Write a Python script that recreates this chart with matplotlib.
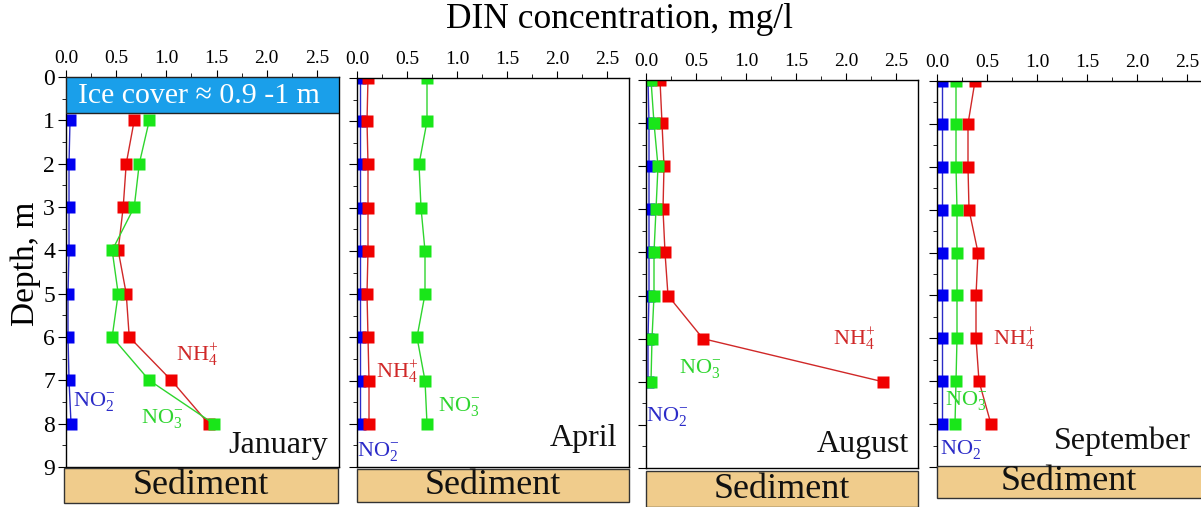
import matplotlib
matplotlib.use('Agg')
import matplotlib.pyplot as plt
from matplotlib.patches import Rectangle

plt.rcParams['font.family'] = 'Liberation Serif'
plt.rcParams['mathtext.fontset'] = 'custom'
plt.rcParams['mathtext.rm'] = 'Liberation Serif'
plt.rcParams['mathtext.it'] = 'Liberation Serif'

months = ['January', 'April', 'August', 'September']

# depth (m) of each sample and DIN values, mg/l
jan_depth = [1, 2, 3, 4, 5, 6, 7, 8]
jan_no2 = [0.04, 0.03, 0.03, 0.03, 0.02, 0.02, 0.03, 0.05]
jan_nh4 = [0.68, 0.60, 0.57, 0.52, 0.60, 0.63, 1.05, 1.42]
jan_no3 = [0.83, 0.73, 0.68, 0.46, 0.52, 0.46, 0.83, 1.47]

apr_depth = [0, 1, 2, 3, 4, 5, 6, 7, 8]
apr_no2 = [0.03, 0.03, 0.03, 0.03, 0.03, 0.03, 0.03, 0.03, 0.03]
apr_nh4 = [0.11, 0.10, 0.11, 0.11, 0.11, 0.10, 0.11, 0.12, 0.12]
apr_no3 = [0.70, 0.70, 0.62, 0.64, 0.68, 0.68, 0.60, 0.68, 0.70]

aug_depth = [0, 1, 2, 3, 4, 5, 6, 7]
aug_no2 = [0.02, 0.03, 0.03, 0.03, 0.03, 0.03, 0.02, 0.02]
aug_nh4 = [0.14, 0.16, 0.18, 0.17, 0.19, 0.22, 0.57, 2.37]
aug_no3 = [0.05, 0.08, 0.12, 0.10, 0.08, 0.08, 0.06, 0.05]

sep_depth = [0, 1, 2, 3, 4, 5, 6, 7, 8]
sep_no2 = [0.05, 0.05, 0.05, 0.05, 0.05, 0.05, 0.05, 0.05, 0.05]
sep_nh4 = [0.38, 0.31, 0.31, 0.32, 0.41, 0.39, 0.39, 0.42, 0.54]
sep_no3 = [0.19, 0.19, 0.19, 0.20, 0.20, 0.20, 0.20, 0.19, 0.18]

panels = [
    (jan_depth, jan_no2, jan_nh4, jan_no3),
    (apr_depth, apr_no2, apr_nh4, apr_no3),
    (aug_depth, aug_no2, aug_nh4, aug_no3),
    (sep_depth, sep_no2, sep_nh4, sep_no3),
]

# label positions (x, depth) for NO2, NH4, NO3 and month name
label_pos = [
    [(0.07, 7.5), (1.10, 6.4), (0.75, 7.87), (2.61, 8.5)],
    [(0.00, 8.65), (0.19, 6.8), (0.81, 7.6), (2.60, 8.35)],
    [(0.00, 7.8), (1.87, 6.0), (0.33, 6.7), (2.63, 8.45)],
    [(0.03, 8.6), (0.56, 6.0), (0.08, 7.45), (2.54, 8.4)],
]

W, H = 1201, 507
# axes boxes in pixels: left, top, right, bottom
boxes = [(66, 77, 339, 467), (357, 78, 629, 467), (646, 80, 918, 468), (937, 81, 1209, 467)]
sed_boxes = [(64, 468, 338, 503), (357, 469, 629, 502), (646, 471, 918, 507), (937, 466, 1209, 498)]

c_no2, c_nh4, c_no3 = '#0000F0', '#F00000', '#19E619'
l_no2, l_nh4, l_no3 = '#2B2BC8', '#D02828', '#2ED52E'

fig = plt.figure(figsize=(W / 100, H / 100), dpi=100)

for i, (depth, no2, nh4, no3) in enumerate(panels):
    l, t, r, b = boxes[i]
    ax = fig.add_axes([l / W, 1 - b / H, (r - l) / W, (b - t) / H])
    ax.plot(no2, depth, color=l_no2, lw=1.0, marker='s', ms=8.5, mfc=c_no2, mec='none')
    ax.plot(nh4, depth, color=l_nh4, lw=1.0, marker='s', ms=8.5, mfc=c_nh4, mec='none')
    ax.plot(no3, depth, color=l_no3, lw=1.0, marker='s', ms=8.5, mfc=c_no3, mec='none')
    ax.set_xlim(0, 2.72)
    ax.set_ylim(9, 0)
    ax.xaxis.tick_top()
    ax.set_xticks([0, 0.5, 1.0, 1.5, 2.0, 2.5])
    ax.set_xticklabels(['0.0', '0.5', '1.0', '1.5', '2.0', '2.5'])
    ax.set_xticks([0.25, 0.75, 1.25, 1.75, 2.25], minor=True)
    ax.set_yticks(range(10))
    ax.set_yticks([k + 0.5 for k in range(9)], minor=True)
    ax.tick_params(axis='x', which='major', direction='out', length=5, labelsize=14, pad=2)
    ax.tick_params(axis='x', which='minor', direction='out', length=3)
    ax.tick_params(axis='y', which='major', direction='out', length=6, labelsize=17, pad=2)
    ax.tick_params(axis='y', which='minor', direction='out', length=3)
    if i > 0:
        ax.set_yticklabels([])
    for s in ax.spines.values():
        s.set_linewidth(1.0)

    p = label_pos[i]
    ax.text(p[0][0], p[0][1], r'NO$_2^{-}$', color=l_no2, fontsize=16, va='center', ha='left')
    ax.text(p[1][0], p[1][1], r'NH$_4^{+}$', color=l_nh4, fontsize=16, va='center', ha='left')
    ax.text(p[2][0], p[2][1], r'NO$_3^{-}$', color=l_no3, fontsize=16, va='center', ha='left')
    ax.text(p[3][0], p[3][1], months[i], color='#111111', fontsize=23, va='center', ha='right')

    if i == 0:
        ax.add_patch(Rectangle((0, 0), 2.72, 0.83, facecolor='#1A9FEA', edgecolor='#222222', lw=1.0, zorder=3))
        ax.text(1.32, 0.43, 'Ice cover \u2248 0.9 -1 m', color='white', fontsize=21.5,
                ha='center', va='center', zorder=4)
        ax.set_ylabel('Depth, m', fontsize=24, labelpad=0)
        ax.yaxis.set_label_coords(-0.09, 0.52)

    sl, st, sr, sb = sed_boxes[i]
    fig.patches.append(Rectangle((sl / W, 1 - sb / H), (sr - sl) / W, (sb - st) / H,
                                 transform=fig.transFigure, facecolor='#F0CC8C',
                                 edgecolor='#333333', lw=1.0))
    fig.text((sl + min(sr, W)) / 2 / W, 1 - (st + sb) / 2 / H, 'Sediment', fontsize=26,
             ha='center', va='center', color='#111111')

fig.text(619 / W, 1 - 19 / H, 'DIN concentration, mg/l', fontsize=25.5, ha='center', va='center')

fig.savefig('out.png', dpi=100)
